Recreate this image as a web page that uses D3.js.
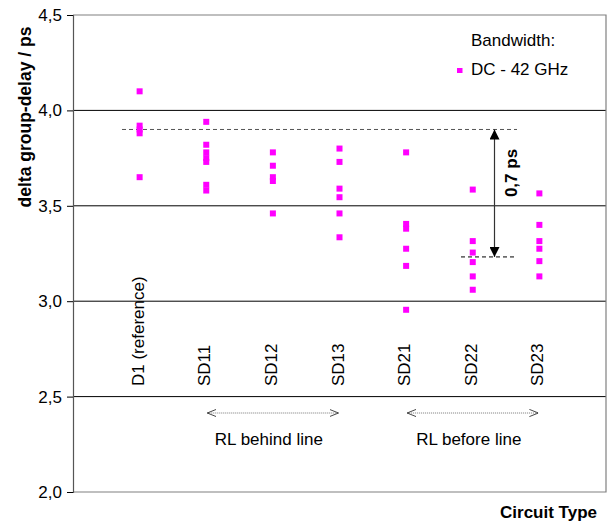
<!DOCTYPE html>
<html>
<head>
<meta charset="utf-8">
<script src="https://cdn.jsdelivr.net/npm/d3@7"></script>
<style>
  body { margin: 0; background: #fff; }
  svg { font-family: Arial, "Liberation Sans", sans-serif; }
</style>
</head>
<body>
<script>
// Circuit types, in order along the x axis
const circuits = ["D1 (reference)", "SD11", "SD12", "SD13", "SD21", "SD22", "SD23"];

// delta group-delay values (ps) per circuit, DC - 42 GHz
const d1Values = [4.10, 3.92, 3.90, 3.88, 3.65];
const sd11Values = [3.94, 3.82, 3.78, 3.75, 3.73, 3.61, 3.58];
const sd12Values = [3.78, 3.71, 3.65, 3.63, 3.46];
const sd13Values = [3.80, 3.73, 3.59, 3.545, 3.46, 3.335];
const sd21Values = [3.78, 3.405, 3.38, 3.275, 3.185, 2.955];
const sd22Values = [3.585, 3.315, 3.255, 3.205, 3.13, 3.06];
const sd23Values = [3.565, 3.40, 3.315, 3.275, 3.21, 3.13];

const seriesValues = [d1Values, sd11Values, sd12Values, sd13Values, sd21Values, sd22Values, sd23Values];
const yTicks = [2.0, 2.5, 3.0, 3.5, 4.0, 4.5];
const gridValues = [2.5, 3.0, 3.5, 4.0];

// annotation values
const refLevel = 3.90;
const lowLevel = 3.232;
const groups = [
  { label: "RL behind line", from: "SD11", to: "SD13" },
  { label: "RL before line", from: "SD21", to: "SD23" }
];

const width = 608, height = 523;
const marginLeft = 73, marginRight = 2, marginTop = 15, marginBottom = 31;

const points = [];
circuits.forEach((c, i) => seriesValues[i].forEach(v => points.push({ c, v })));

const x = d3.scalePoint()
  .domain(["_start", ...circuits, "_end"])
  .range([marginLeft, width - marginRight]);

const y = d3.scaleLinear()
  .domain([2.0, 4.5])
  .range([height - marginBottom, marginTop]);

const svg = d3.select("body").append("svg")
  .attr("width", width)
  .attr("height", height);

// gridlines
svg.append("g")
  .selectAll("line")
  .data(gridValues)
  .join("line")
  .attr("x1", marginLeft).attr("x2", width - marginRight)
  .attr("y1", d => y(d)).attr("y2", d => y(d))
  .attr("stroke", "#000").attr("stroke-width", 1);

// plot frame (top, right, bottom)
svg.append("path")
  .attr("d", `M${marginLeft},${y(4.5)}H${width - marginRight}V${y(2.0)}H${marginLeft}`)
  .attr("fill", "none").attr("stroke", "#808080").attr("stroke-width", 1.2);

// y axis
const yAxis = d3.axisLeft(y)
  .tickValues(yTicks)
  .tickSize(6)
  .tickPadding(5)
  .tickFormat(d => d3.format(".1f")(d).replace(".", ","));

svg.append("g")
  .attr("transform", `translate(${marginLeft},0)`)
  .call(yAxis)
  .call(g => g.select(".domain").attr("stroke", "#555").attr("stroke-width", 1.2))
  .call(g => g.selectAll(".tick line").attr("stroke", "#000"))
  .call(g => g.selectAll("text").attr("font-size", 17).attr("fill", "#000")
    .attr("font-family", "Arial, 'Liberation Sans', sans-serif"));

svg.append("text")
  .attr("transform", `translate(25,117) rotate(-90)`)
  .attr("text-anchor", "middle")
  .attr("dy", "0.35em")
  .attr("font-size", 17.5)
  .attr("font-weight", "bold")
  .text("delta group-delay / ps");

// category labels (rotated)
svg.append("g")
  .selectAll("text")
  .data(circuits)
  .join("text")
  .attr("transform", d => `translate(${x(d) + 4},386) rotate(-90)`)
  .attr("font-size", 17)
  .attr("text-anchor", "start")
  .text(d => d);

// reference dashed line
svg.append("line")
  .attr("x1", 122).attr("x2", 517)
  .attr("y1", y(refLevel)).attr("y2", y(refLevel))
  .attr("stroke", "#555").attr("stroke-dasharray", "4,3");

svg.append("line")
  .attr("x1", 461).attr("x2", 516)
  .attr("y1", y(lowLevel)).attr("y2", y(lowLevel))
  .attr("stroke", "#000").attr("stroke-dasharray", "4,3");

// 0,7 ps arrow
const defs = svg.append("defs");
defs.append("marker")
  .attr("id", "head")
  .attr("viewBox", "0 0 10 10")
  .attr("refX", 10).attr("refY", 5)
  .attr("markerWidth", 11).attr("markerHeight", 10)
  .attr("markerUnits", "userSpaceOnUse")
  .attr("orient", "auto-start-reverse")
  .append("path")
  .attr("d", "M0,0L10,5L0,10Z")
  .attr("fill", "#000");

svg.append("line")
  .attr("x1", 494.5).attr("x2", 494.5)
  .attr("y1", y(refLevel)).attr("y2", y(lowLevel))
  .attr("stroke", "#333").attr("stroke-width", 1.2)
  .attr("marker-start", "url(#head)")
  .attr("marker-end", "url(#head)");

svg.append("text")
  .attr("transform", `translate(511,173) rotate(-90)`)
  .attr("text-anchor", "middle")
  .attr("dy", "0.35em")
  .attr("font-size", 17)
  .attr("font-weight", "bold")
  .text("0,7 ps");

// data points
svg.append("g")
  .attr("fill", "#ff00ff")
  .selectAll("rect")
  .data(points)
  .join("rect")
  .attr("x", d => x(d.c) - 3)
  .attr("y", d => y(d.v) - 3)
  .attr("width", 6)
  .attr("height", 6);

// legend
svg.append("text")
  .attr("x", 471).attr("y", 46)
  .attr("font-size", 17)
  .text("Bandwidth:");
svg.append("rect")
  .attr("x", 457).attr("y", 68)
  .attr("width", 5.5).attr("height", 5)
  .attr("fill", "#ff00ff");
svg.append("text")
  .attr("x", 471).attr("y", 75)
  .attr("font-size", 17)
  .text("DC - 42 GHz");

// group annotations with dotted double arrows
defs.append("marker")
  .attr("id", "open")
  .attr("viewBox", "0 0 10 10")
  .attr("refX", 10).attr("refY", 5)
  .attr("markerWidth", 9).attr("markerHeight", 9)
  .attr("markerUnits", "userSpaceOnUse")
  .attr("orient", "auto-start-reverse")
  .append("path")
  .attr("d", "M0,1L10,5L0,9")
  .attr("fill", "none")
  .attr("stroke", "#333")
  .attr("stroke-width", 1);

const grp = svg.append("g")
  .selectAll("g")
  .data(groups)
  .join("g");

grp.append("line")
  .attr("x1", d => x(d.from) + 1).attr("x2", d => x(d.to) - 1)
  .attr("y1", 413).attr("y2", 413)
  .attr("stroke", "#777").attr("stroke-dasharray", "1,1")
  .attr("marker-start", "url(#open)")
  .attr("marker-end", "url(#open)");

grp.append("text")
  .attr("x", d => (x(d.from) + x(d.to)) / 2 - 4)
  .attr("y", 445)
  .attr("text-anchor", "middle")
  .attr("font-size", 17)
  .text(d => d.label);

// x axis title
svg.append("text")
  .attr("x", 597).attr("y", 518)
  .attr("text-anchor", "end")
  .attr("font-size", 17)
  .attr("font-weight", "bold")
  .text("Circuit Type");
</script>
</body>
</html>
